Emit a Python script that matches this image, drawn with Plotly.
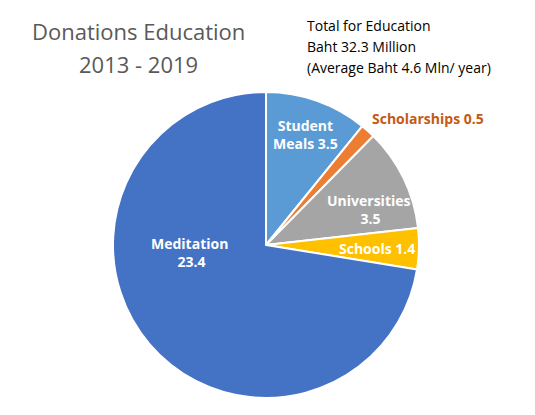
import plotly.graph_objects as go

# Donations for education 2013-2019, Baht million
categories = ['Student Meals', 'Scholarships', 'Universities', 'Schools', 'Meditation']
label_text = ['Student<br>Meals', 'Scholarships', 'Universities<br>', 'Schools', 'Meditation<br>']
values = [3.5, 0.5, 3.5, 1.4, 23.4]
colors = ['#5B9BD5', '#ED7D31', '#A5A5A5', '#FFC000', '#4472C4']
label_colors = ['white', '#C55A11', 'white', 'white', 'white']
title_lines = ['Donations Education', '2013 - 2019']
info_lines = ['Total for Education', 'Baht 32.3 Million', '(Average Baht 4.6 Mln/ year)']

# label positions (paper coords), placed like the original
label_pos = [(0.5636, 0.6904), (0.7970, 0.7273), (0.6850, 0.5049),
             (0.7011, 0.4103), (0.3435, 0.3993)]

fig = go.Figure(go.Pie(
    labels=categories,
    values=values,
    sort=False,
    direction='clockwise',
    rotation=0,
    marker=dict(colors=colors, line=dict(color='white', width=2)),
    textinfo='none',
    showlegend=False,
    hoverinfo='label+value',
    domain=dict(x=[0.1992, 0.7799], y=[0.0418, 0.7936]),
))

annotations = []
for line, yy in zip(title_lines, [0.9423, 0.8624]):
    annotations.append(dict(text=line, x=0.2467, y=yy, xref='paper', yref='paper',
                            xanchor='center', yanchor='middle', showarrow=False,
                            font=dict(family='Open Sans', size=22, color='#595959')))
for line, yy in zip(info_lines, [0.9582, 0.9042, 0.8526]):
    annotations.append(dict(text=line, x=0.5636, y=yy, xref='paper', yref='paper',
                            xanchor='left', yanchor='middle', showarrow=False,
                            font=dict(family='Open Sans', size=14, color='black')))
for txt, v, c, (px_, py_) in zip(label_text, values, label_colors, label_pos):
    annotations.append(dict(text=f'<b>{txt} {v}</b>', x=px_, y=py_,
                            xref='paper', yref='paper', xanchor='center', yanchor='middle',
                            showarrow=False, align='center',
                            font=dict(family='Open Sans', size=14, color=c)))

fig.update_layout(
    width=527,
    height=407,
    margin=dict(l=0, r=0, t=0, b=0),
    paper_bgcolor='white',
    annotations=annotations,
)

fig.write_html('out.html')
